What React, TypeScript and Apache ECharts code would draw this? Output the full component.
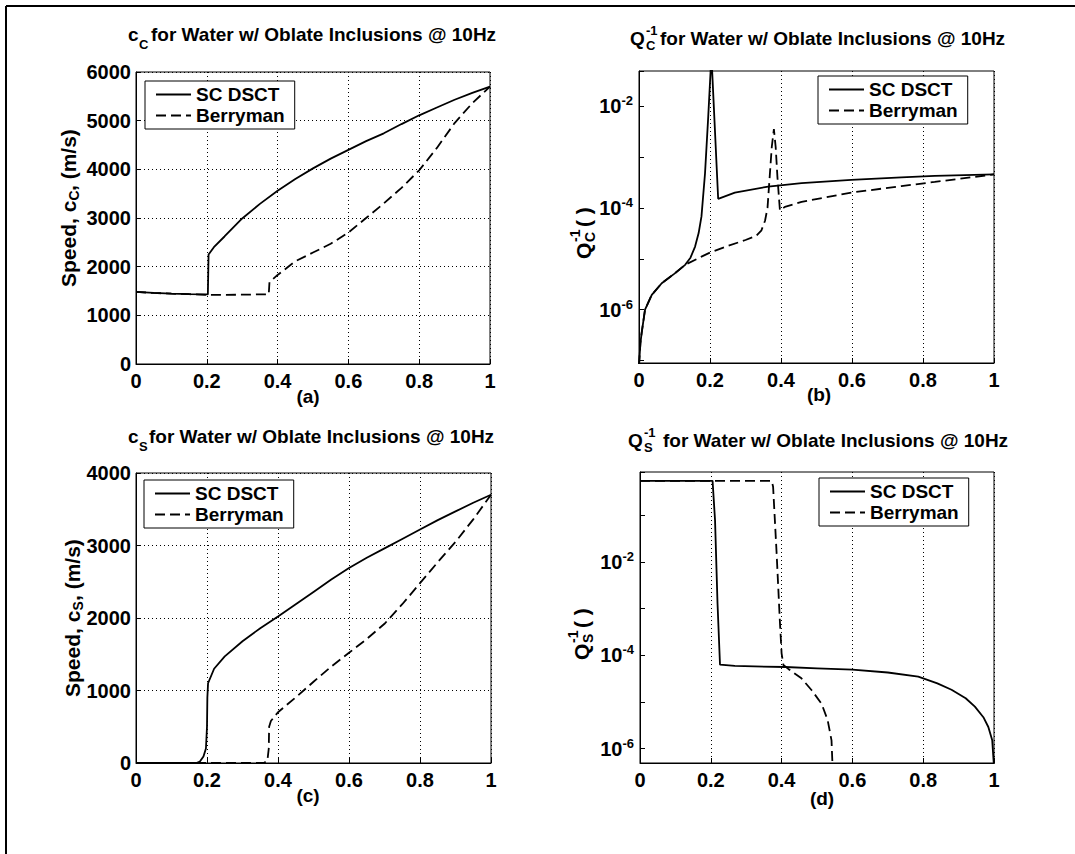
import React, { useEffect, useRef } from "react";
import * as echarts from "echarts";

const FONT = '"Liberation Sans", Arial, Helvetica, sans-serif';

// ---------- Panel (a): compressional speed c_C (m/s) ----------
const xA_sc = [0, 0.05, 0.1, 0.15, 0.2, 0.203, 0.205, 0.22, 0.25, 0.3, 0.35, 0.4, 0.45, 0.5, 0.55, 0.6, 0.65, 0.7, 0.75, 0.8, 0.85, 0.9, 0.95, 1.0];
const yA_sc = [1480, 1460, 1445, 1435, 1430, 1430, 2250, 2400, 2620, 2990, 3290, 3560, 3800, 4020, 4220, 4400, 4580, 4740, 4930, 5110, 5270, 5430, 5570, 5700];
const xA_be = [0, 0.05, 0.1, 0.15, 0.2, 0.25, 0.3, 0.35, 0.375, 0.377, 0.4, 0.45, 0.5, 0.55, 0.6, 0.65, 0.7, 0.75, 0.8, 0.85, 0.9, 0.95, 1.0];
const yA_be = [1480, 1460, 1445, 1435, 1420, 1420, 1425, 1430, 1430, 1680, 1830, 2110, 2290, 2470, 2700, 3000, 3300, 3620, 3980, 4440, 4950, 5360, 5700];

// ---------- Panel (b): Q_C^-1 ----------
const xB_sc = [0, 0.004, 0.0075, 0.017, 0.036, 0.064, 0.1, 0.13, 0.145, 0.158, 0.168, 0.176, 0.186, 0.195, 0.204, 0.223, 0.27, 0.364, 0.458, 0.598, 0.739, 0.833, 1.0];
const yB_sc = [8e-8, 2.2e-7, 3.5e-7, 1.0e-6, 1.95e-6, 3.3e-6, 5.1e-6, 7.6e-6, 1.05e-5, 1.74e-5, 3.2e-5, 6.8e-5, 4.8e-4, 6.2e-3, 0.1, 1.51e-4, 2.0e-4, 2.63e-4, 3.09e-4, 3.55e-4, 3.98e-4, 4.27e-4, 4.57e-4];
const xB_be = [0, 0.004, 0.0075, 0.017, 0.036, 0.064, 0.1, 0.13, 0.176, 0.2, 0.25, 0.3, 0.33, 0.345, 0.355, 0.362, 0.368, 0.374, 0.38, 0.385, 0.39, 0.397, 0.411, 0.458, 0.598, 0.739, 0.833, 1.0];
const yB_be = [8e-8, 2.2e-7, 3.5e-7, 1.0e-6, 1.95e-6, 3.3e-6, 5.1e-6, 7.6e-6, 1.1e-5, 1.32e-5, 1.78e-5, 2.34e-5, 2.82e-5, 3.63e-5, 5.6e-5, 1.0e-4, 4.0e-4, 1.58e-3, 3.55e-3, 1.58e-3, 4.0e-4, 8.9e-5, 1.05e-4, 1.32e-4, 2.0e-4, 2.69e-4, 3.24e-4, 4.57e-4];

// ---------- Panel (c): shear speed c_S (m/s) ----------
const xC_sc = [0, 0.1, 0.17, 0.18, 0.19, 0.197, 0.2, 0.201, 0.203, 0.22, 0.25, 0.3, 0.35, 0.4, 0.45, 0.5, 0.55, 0.6, 0.65, 0.7, 0.75, 0.8, 0.85, 0.9, 0.95, 1.0];
const yC_sc = [0, 0, 0, 20, 90, 200, 500, 900, 1100, 1300, 1470, 1680, 1860, 2020, 2190, 2360, 2530, 2690, 2830, 2960, 3090, 3220, 3350, 3470, 3590, 3700];
const xC_be = [0, 0.2, 0.36, 0.37, 0.374, 0.375, 0.38, 0.4, 0.45, 0.5, 0.55, 0.6, 0.65, 0.7, 0.75, 0.8, 0.85, 0.9, 0.95, 1.0];
const yC_be = [0, 0, 0, 30, 200, 500, 580, 700, 905, 1120, 1330, 1520, 1710, 1920, 2190, 2480, 2770, 3050, 3360, 3700];

// ---------- Panel (d): Q_S^-1 ----------
const xD_sc = [0, 0.1, 0.205, 0.212, 0.219, 0.226, 0.268, 0.41, 0.5, 0.6, 0.7, 0.786, 0.84, 0.88, 0.92, 0.946, 0.97, 0.984, 0.995, 1.0];
const yD_sc = [0.55, 0.55, 0.55, 0.078, 1.29e-3, 6.3e-5, 5.9e-5, 5.6e-5, 5.25e-5, 4.9e-5, 4.27e-5, 3.47e-5, 2.5e-5, 1.82e-5, 1.2e-5, 7.9e-6, 4.7e-6, 2.9e-6, 1.5e-6, 4e-7];
const xD_be = [0, 0.2, 0.372, 0.376, 0.386, 0.395, 0.4, 0.405, 0.419, 0.456, 0.485, 0.513, 0.53, 0.541, 0.544];
const yD_be = [0.55, 0.55, 0.55, 0.41, 0.015, 5.6e-4, 1.1e-4, 6.2e-5, 5.1e-5, 3.2e-5, 1.78e-5, 9.1e-6, 4.1e-6, 1.5e-6, 4e-7];

const legendNames = ["SC DSCT", "Berryman"];
const panelLetters = ["(a)", "(b)", "(c)", "(d)"];
const titleMain = "for Water w/ Oblate Inclusions @ 10Hz";

const pairs = (xs: number[], ys: number[]) => xs.map((x, i) => [x, ys[i]]);

const grids = [
  { left: 136, top: 72, width: 354, height: 292 },
  { left: 639, top: 71, width: 355, height: 292 },
  { left: 136, top: 473, width: 355, height: 290 },
  { left: 640, top: 472, width: 354, height: 291 },
];

const txt = (text: string, x: number, y: number, size = 19, align = "left") => ({
  type: "text",
  x,
  y,
  silent: true,
  style: {
    text,
    fill: "#000",
    fontSize: size,
    fontWeight: "bold",
    fontFamily: FONT,
    textAlign: align,
    align,
    textVerticalAlign: "middle",
    verticalAlign: "middle",
  },
});

const rotGroup = (cx: number, cy: number, children: any[]) => ({
  type: "group",
  x: cx,
  y: cy,
  rotation: Math.PI / 2,
  children,
});

const logLabel = (v: number) => {
  const e = Math.log10(v);
  const r = Math.round(e);
  if (Math.abs(e - r) > 1e-6 || r % 2 !== 0) return "";
  return `{b|10}{s|${r}}`;
};

const tickLabelStyle = { color: "#000", fontSize: 20, fontWeight: "bold", fontFamily: FONT };

const makeX = (i: number) => ({
  type: "value",
  gridIndex: i,
  min: 0,
  max: 1,
  interval: 0.2,
  axisLine: { show: true, onZero: false, lineStyle: { color: "#000", width: 1 } },
  axisTick: { show: true, inside: true, length: 5, lineStyle: { color: "#000" } },
  axisLabel: { ...tickLabelStyle, margin: 7, formatter: (v: number) => String(Math.round(v * 10) / 10) },
  splitLine: { show: true, lineStyle: { color: "#000", width: 1, type: [1, 3] } },
});

const makeLinY = (i: number, max: number) => ({
  type: "value",
  gridIndex: i,
  min: 0,
  max,
  interval: 1000,
  axisLine: { show: true, lineStyle: { color: "#000", width: 1 } },
  axisTick: { show: true, inside: true, length: 5, lineStyle: { color: "#000" } },
  axisLabel: { ...tickLabelStyle, margin: 5, formatter: (v: number) => String(Math.round(v)) },
  splitLine: { show: true, lineStyle: { color: "#000", width: 1, type: [1, 3] } },
});

const makeLogY = (i: number, min: number, max: number) => ({
  type: "log",
  logBase: 10,
  gridIndex: i,
  min,
  max,
  axisLine: { show: true, lineStyle: { color: "#000", width: 1 } },
  axisTick: { show: true, inside: true, length: 5, lineStyle: { color: "#000" } },
  axisLabel: {
    ...tickLabelStyle,
    margin: 6,
    formatter: logLabel,
    rich: {
      b: { fontSize: 20, fontWeight: "bold", fontFamily: FONT, color: "#000", lineHeight: 24 },
      s: { fontSize: 13, fontWeight: "bold", fontFamily: FONT, color: "#000", lineHeight: 12, verticalAlign: "top" },
    },
  },
  splitLine: { show: false },
});

const line = (name: string, i: number, data: number[][], dashed: boolean) => ({
  type: "line",
  name,
  xAxisIndex: i,
  yAxisIndex: i,
  data,
  symbol: "none",
  showSymbol: false,
  clip: true,
  lineStyle: { color: "#000", width: 1.8, type: dashed ? [10, 5] : "solid" },
  itemStyle: { color: "#000" },
  emphasis: { disabled: true },
});

const legendAt = (left: number, top: number) => ({
  left,
  top,
  orient: "vertical",
  data: legendNames,
  selectedMode: false,
  borderColor: "#000",
  borderWidth: 1,
  backgroundColor: "#fff",
  padding: [4, 10, 4, 10],
  itemGap: 2,
  itemWidth: 35,
  itemHeight: 14,
  itemStyle: { opacity: 0, color: "transparent", borderColor: "transparent", borderWidth: 0 },
  textStyle: { color: "#000", fontSize: 19, fontWeight: "bold", fontFamily: FONT },
});

export default function App() {
  const ref = useRef<HTMLDivElement>(null);
  useEffect(() => {
    if (!ref.current) return;
    const chart = echarts.init(ref.current, null, { renderer: "svg" });
    const graphics: any[] = [
      { type: "line", silent: true, shape: { x1: 6, y1: 6, x2: 1075, y2: 6 }, style: { stroke: "#000", lineWidth: 2 } },
      { type: "line", silent: true, shape: { x1: 6, y1: 6, x2: 6, y2: 854 }, style: { stroke: "#000", lineWidth: 2 } },
      // titles
      txt("c", 128, 34), txt("C", 139, 44, 13), txt(titleMain, 151, 34),
      txt("Q", 630, 38), txt("-1", 646, 30, 13), txt("C", 646, 45, 13), txt(titleMain, 660, 38),
      txt("c", 128, 436), txt("S", 139, 446, 13), txt(titleMain, 149, 436),
      txt("Q", 628, 440), txt("-1", 644, 432, 13), txt("S", 644, 447, 13), txt(titleMain, 663, 440),
      // panel letters
      txt(panelLetters[0], 308, 396, 19, "center"),
      txt(panelLetters[1], 819, 394, 19, "center"),
      txt(panelLetters[2], 308, 795, 19, "center"),
      txt(panelLetters[3], 822, 798, 19, "center"),
      // y axis names (rotated)
      rotGroup(68, 208, [txt("Speed, c", -79, 0, 21), txt("C", 7.5, 6, 14), txt(", (m/s)", 17, 0, 21)]),
      rotGroup(72, 618, [txt("Speed, c", -79, 0, 21), txt("S", 7.5, 6, 14), txt(", (m/s)", 17, 0, 21)]),
      rotGroup(583, 233, [txt("Q", -26, 0, 21), txt("-1", -9, -8, 14), txt("C", -9, 7, 14), txt("( )", 6, 0, 21)]),
      rotGroup(581, 634, [txt("Q", -26, 0, 21), txt("-1", -9, -8, 14), txt("S", -9, 7, 14), txt("( )", 6, 0, 21)]),
    ];
    const option: any = {
      animation: false,
      backgroundColor: "#fff",
      grid: grids.map((g) => ({ ...g, show: true, borderColor: "#000", borderWidth: 1, backgroundColor: "transparent", containLabel: false })),
      xAxis: [0, 1, 2, 3].map(makeX),
      yAxis: [makeLinY(0, 6000), makeLogY(1, 8.9e-8, 0.0494), makeLinY(2, 4000), makeLogY(3, 4.9e-7, 0.85)],
      legend: [legendAt(145, 81), legendAt(818, 76), legendAt(144, 480), legendAt(819, 478)],
      series: [
        line("SC DSCT", 0, pairs(xA_sc, yA_sc), false),
        line("Berryman", 0, pairs(xA_be, yA_be), true),
        line("SC DSCT", 1, pairs(xB_sc, yB_sc), false),
        line("Berryman", 1, pairs(xB_be, yB_be), true),
        line("SC DSCT", 2, pairs(xC_sc, yC_sc), false),
        line("Berryman", 2, pairs(xC_be, yC_be), true),
        line("SC DSCT", 3, pairs(xD_sc, yD_sc), false),
        line("Berryman", 3, pairs(xD_be, yD_be), true),
      ],
      graphic: graphics,
    };
    chart.setOption(option);
    return () => chart.dispose();
  }, []);
  return (
    <div
      ref={ref}
      style={{ position: "fixed", left: 0, top: 0, width: 1075, height: 854, background: "#fff" }}
    />
  );
}
